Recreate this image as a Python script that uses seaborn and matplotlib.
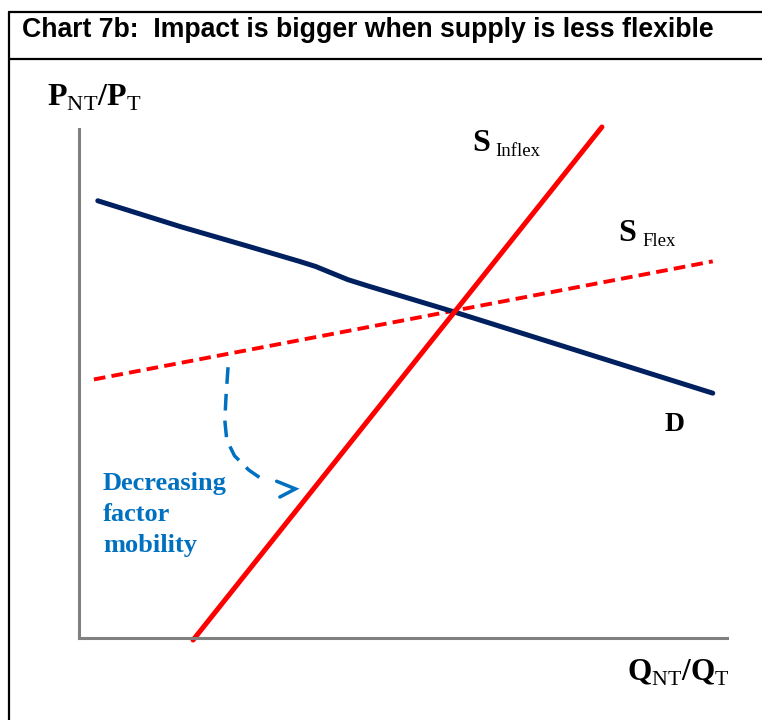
import matplotlib
matplotlib.use("Agg")
import matplotlib.pyplot as plt
import seaborn as sns
from matplotlib.lines import Line2D

# curves, in a 0-10 x 0-10 diagram space
d_x = [0.29, 1.57, 2.60, 3.40, 3.65, 3.90, 4.15, 4.45, 5.78, 9.78]
d_y = [8.59, 8.08, 7.70, 7.40, 7.30, 7.17, 7.04, 6.92, 6.41, 4.81]

s_flex_x = [0.23, 9.78]
s_flex_y = [5.08, 7.40]

s_inflex_x = [1.76, 8.07]
s_inflex_y = [-0.04, 10.04]

# curved blue arrow ("decreasing factor mobility")
arrow_x = [2.30, 2.27, 2.25, 2.28, 2.40, 2.62, 2.87]
arrow_y = [5.32, 4.77, 4.28, 3.89, 3.58, 3.30, 3.08]
head_x = [3.05, 3.34, 3.10]
head_y = [3.08, 2.93, 2.77]

W, H = 762, 720


def fpx(x, y):
    # pixel position -> figure fraction
    return x / W, 1 - y / H


sns.set_theme(style="white")
plt.rcParams["text.color"] = "black"
plt.rcParams["mathtext.fontset"] = "custom"
plt.rcParams["mathtext.rm"] = "Liberation Serif"
plt.rcParams["mathtext.bf"] = "Liberation Serif:bold"

fig = plt.figure(figsize=(W / 100, H / 100), dpi=100)
fig.patch.set_facecolor("white")

# outer box + title rule
box = "black"
fig.add_artist(Line2D([9 / W, 9 / W], [0, 1 - 12 / H], color=box, lw=1.6))
fig.add_artist(Line2D([9 / W, 1], [1 - 12 / H, 1 - 12 / H], color=box, lw=1.6))
fig.add_artist(Line2D([9 / W, 1], [1 - 59 / H, 1 - 59 / H], color=box, lw=1.6))
fig.text(*fpx(22, 37), "Chart 7b:  Impact is bigger when supply is less flexible",
         family="Liberation Sans", weight="bold", fontsize=19.2, va="baseline",
         color="black")

left, right, top, bottom = 79, 727, 129, 638
ax = fig.add_axes([left / W, 1 - bottom / H, (right - left) / W, (bottom - top) / H])
ax.set_xlim(0, 10)
ax.set_ylim(0, 10)
ax.set_xticks([])
ax.set_yticks([])
for s in ["top", "right"]:
    ax.spines[s].set_visible(False)
for s in ["left", "bottom"]:
    ax.spines[s].set_color("#808080")
    ax.spines[s].set_linewidth(2.2)
ax.set_facecolor("white")

sns.lineplot(x=s_flex_x, y=s_flex_y, sort=False, estimator=None, ax=ax,
             color="#FF0000", lw=2.8, linestyle=(0, (3.0, 1.6)))
sns.lineplot(x=d_x, y=d_y, sort=False, estimator=None, ax=ax,
             color="#002060", lw=3.6, solid_capstyle="round", solid_joinstyle="round")
sns.lineplot(x=s_inflex_x, y=s_inflex_y, sort=False, estimator=None, ax=ax,
             color="#FF0000", lw=3.6, clip_on=False)
sns.lineplot(x=arrow_x, y=arrow_y, sort=False, estimator=None, ax=ax,
             color="#0070C0", lw=2.5, linestyle=(0, (4.8, 2.9)))
sns.lineplot(x=head_x, y=head_y, sort=False, estimator=None, ax=ax,
             color="#0070C0", lw=2.5, solid_joinstyle="miter")

serif = "Liberation Serif"
ax.text(6.07, 9.57, "S", family=serif, weight="bold", fontsize=23, clip_on=False)
ax.text(6.43, 9.47, "Inflex", family=serif, fontsize=13.5, clip_on=False)
ax.text(8.32, 7.80, "S", family=serif, weight="bold", fontsize=23)
ax.text(8.69, 7.70, "Flex", family=serif, fontsize=13.5)
ax.text(9.03, 4.06, "D", family=serif, weight="bold", fontsize=20)

blue = "#0070C0"
for i, word in enumerate(["Decreasing", "factor", "mobility"]):
    fig.text(*fpx(103, 490 + 31 * i), word, family=serif, weight="bold",
             fontsize=19, color=blue, va="baseline")

fig.text(*fpx(47, 106), r"$\mathbf{P}_{\mathrm{NT}}\mathbf{/P}_{\mathrm{T}}$",
         fontsize=23, va="baseline")
fig.text(*fpx(627, 681), r"$\mathbf{Q}_{\mathrm{NT}}\mathbf{/Q}_{\mathrm{T}}$",
         fontsize=22.5, va="baseline")

fig.savefig("out.png", dpi=100, facecolor="white")
